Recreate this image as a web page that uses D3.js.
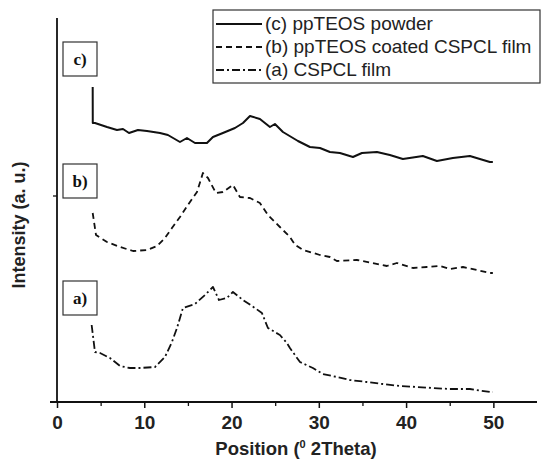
<!DOCTYPE html>
<html>
<head>
<meta charset="utf-8">
<script src="https://cdn.jsdelivr.net/npm/d3@7"></script>
<style>
  body { margin: 0; background: #fff; }
  svg { display: block; }
</style>
</head>
<body>
<div id="chart"></div>
<script>
// 2Theta positions and intensities (a. u.)
const cX = [4.09, 4.1, 4.35, 5.73, 6.87, 7.56, 8.25, 9.28, 10.31, 11.8, 12.71, 14.09, 14.89, 15.81, 17.18, 17.87, 19.01, 20.39, 21.31, 22.11, 23.25, 24.4, 24.97, 25.89, 27.61, 28.98, 30.13, 31.27, 32.42, 33.91, 34.94, 36.66, 38.14, 39.63, 41.92, 43.53, 45.36, 47.31, 49.6, 49.94];
const cY = [315, 279, 279, 275, 272, 273, 269, 272, 271, 269, 267, 260, 264, 259, 259, 265, 269, 274, 279, 286, 283, 275, 278, 270, 261, 255, 254, 250, 249, 245, 249, 250, 247, 243, 246, 241, 244, 246, 240, 240];

const bX = [4.09, 4.47, 5.73, 7.22, 8.71, 10.31, 11.45, 12.37, 13.17, 14.09, 15.0, 16.04, 16.72, 17.3, 18.21, 19.01, 20.16, 20.96, 22.11, 23.25, 24.17, 25.54, 26.69, 27.3, 28.18, 30.13, 31.27, 32.07, 34.36, 36.2, 37.8, 38.95, 40.78, 42.38, 43.87, 45.02, 46.51, 48.11, 49.6, 49.94];
const bY = [189, 167, 160, 155, 151, 152, 156, 164, 174, 185, 197, 210, 229, 224, 209, 210, 217, 205, 204, 199, 187, 175, 165, 157, 152, 147, 145, 141, 142, 139, 136, 139, 134, 135, 136, 133, 135, 132, 129, 129];

const aX = [3.97, 4.35, 4.93, 6.07, 7.22, 8.36, 9.51, 11.23, 12.37, 13.17, 13.75, 14.43, 15.81, 16.95, 17.87, 18.56, 19.47, 20.16, 21.31, 22.68, 23.48, 24.17, 25.54, 26.35, 26.69, 27.84, 29.32, 30.47, 32.07, 33.56, 35.51, 37.34, 39.29, 41.24, 43.07, 45.02, 47.31, 49.6, 49.94];
const aY = [77, 50, 49, 44, 36, 34, 34, 35, 45, 60, 74, 94, 98, 107, 115, 102, 104, 110, 102, 94, 89, 74, 67, 59, 54, 40, 34, 28, 25, 22, 20, 18, 16, 15, 14, 13, 13, 10, 10];

const xTicks = [0, 10, 20, 30, 40, 50];
const xMinorTicks = [5, 15, 25, 35, 45];
const legendLabels = ["(c) ppTEOS powder", "(b) ppTEOS coated CSPCL film", "(a) CSPCL film"];
const curveTags = ["c)", "b)", "a)"];

const width = 541, height = 468;
const sans = "Liberation Sans, Arial, sans-serif";

const svg = d3.select("#chart")
    .append("svg")
    .attr("width", width)
    .attr("height", height);

const x = d3.scaleLinear().domain([0, 55]).range([57, 537]);
const y = d3.scaleLinear().domain([0, 384]).range([402, 18]);

const series = [
    { xs: cX, ys: cY, dash: null, width: 2 },
    { xs: bX, ys: bY, dash: "6,4", width: 1.8 },
    { xs: aX, ys: aY, dash: "8,3,2,3", width: 1.8 }
];

const line = d3.line()
    .x(d => x(d[0]))
    .y(d => y(d[1]));

// curves
series.forEach(s => {
    svg.append("path")
        .datum(s.xs.map((v, i) => [v, s.ys[i]]))
        .attr("fill", "none")
        .attr("stroke", "#111")
        .attr("stroke-width", s.width)
        .attr("stroke-linejoin", "round")
        .attr("stroke-dasharray", s.dash)
        .attr("d", line);
});

// x axis
const xAxis = svg.append("g")
    .attr("transform", `translate(0,402)`)
    .call(d3.axisBottom(x).tickValues(xTicks).tickSize(6).tickPadding(8).tickFormat(d3.format("d")));
xAxis.select(".domain").remove();
xAxis.selectAll("line").attr("stroke", "#111").attr("stroke-width", 1.5);
xAxis.selectAll("text")
    .attr("fill", "#222")
    .style("font-family", sans)
    .style("font-size", "19px")
    .style("font-weight", "bold");

const xMinor = svg.append("g")
    .attr("transform", `translate(0,402)`)
    .call(d3.axisBottom(x).tickValues(xMinorTicks).tickSize(4).tickFormat(""));
xMinor.select(".domain").remove();
xMinor.selectAll("line").attr("stroke", "#111").attr("stroke-width", 1.3);

svg.append("line")
    .attr("x1", 50).attr("x2", 537)
    .attr("y1", 402).attr("y2", 402)
    .attr("stroke", "#111").attr("stroke-width", 1.8);

// y axis
svg.append("line")
    .attr("x1", 57).attr("x2", 57)
    .attr("y1", 18).attr("y2", 403)
    .attr("stroke", "#111").attr("stroke-width", 1.8);
svg.append("line")
    .attr("x1", 53).attr("x2", 57)
    .attr("y1", 196).attr("y2", 196)
    .attr("stroke", "#111").attr("stroke-width", 1.3);

// axis titles
svg.append("text")
    .attr("transform", "translate(25,225) rotate(-90)")
    .attr("text-anchor", "middle")
    .attr("fill", "#222")
    .style("font-family", sans)
    .style("font-size", "18px")
    .style("font-weight", "bold")
    .text("Intensity (a. u.)");

const xTitle = svg.append("text")
    .attr("x", 296)
    .attr("y", 455)
    .attr("text-anchor", "middle")
    .attr("fill", "#222")
    .style("font-family", sans)
    .style("font-size", "18.5px")
    .style("font-weight", "bold");
xTitle.append("tspan").text("Position (");
xTitle.append("tspan").attr("dy", -7).style("font-size", "11px").text("0");
xTitle.append("tspan").attr("dy", 7).text(" 2Theta)");

// curve tags
const tagY = [42, 164, 281];
curveTags.forEach((t, i) => {
    svg.append("rect")
        .attr("x", 63).attr("y", tagY[i])
        .attr("width", 34).attr("height", 34)
        .attr("fill", "#fff")
        .attr("stroke", "#333")
        .attr("stroke-width", 1.2);
    svg.append("text")
        .attr("x", 80).attr("y", tagY[i] + 23)
        .attr("text-anchor", "middle")
        .attr("fill", "#111")
        .style("font-family", "Liberation Serif, Times New Roman, serif")
        .style("font-size", "17px")
        .style("font-weight", "bold")
        .text(t);
});

// legend
const legend = svg.append("g");
legend.append("rect")
    .attr("x", 213).attr("y", 10)
    .attr("width", 327).attr("height", 73)
    .attr("fill", "#fff")
    .attr("stroke", "#333")
    .attr("stroke-width", 1.2);
const legendY = [24, 47, 70];
legendLabels.forEach((lab, i) => {
    legend.append("line")
        .attr("x1", 216).attr("x2", 262)
        .attr("y1", legendY[i]).attr("y2", legendY[i])
        .attr("stroke", "#111")
        .attr("stroke-width", series[i].width)
        .attr("stroke-dasharray", series[i].dash);
    legend.append("text")
        .attr("x", 265).attr("y", legendY[i] + 6)
        .attr("fill", "#222")
        .style("font-family", sans)
        .style("font-size", "19px")
        .text(lab);
});
</script>
</body>
</html>
